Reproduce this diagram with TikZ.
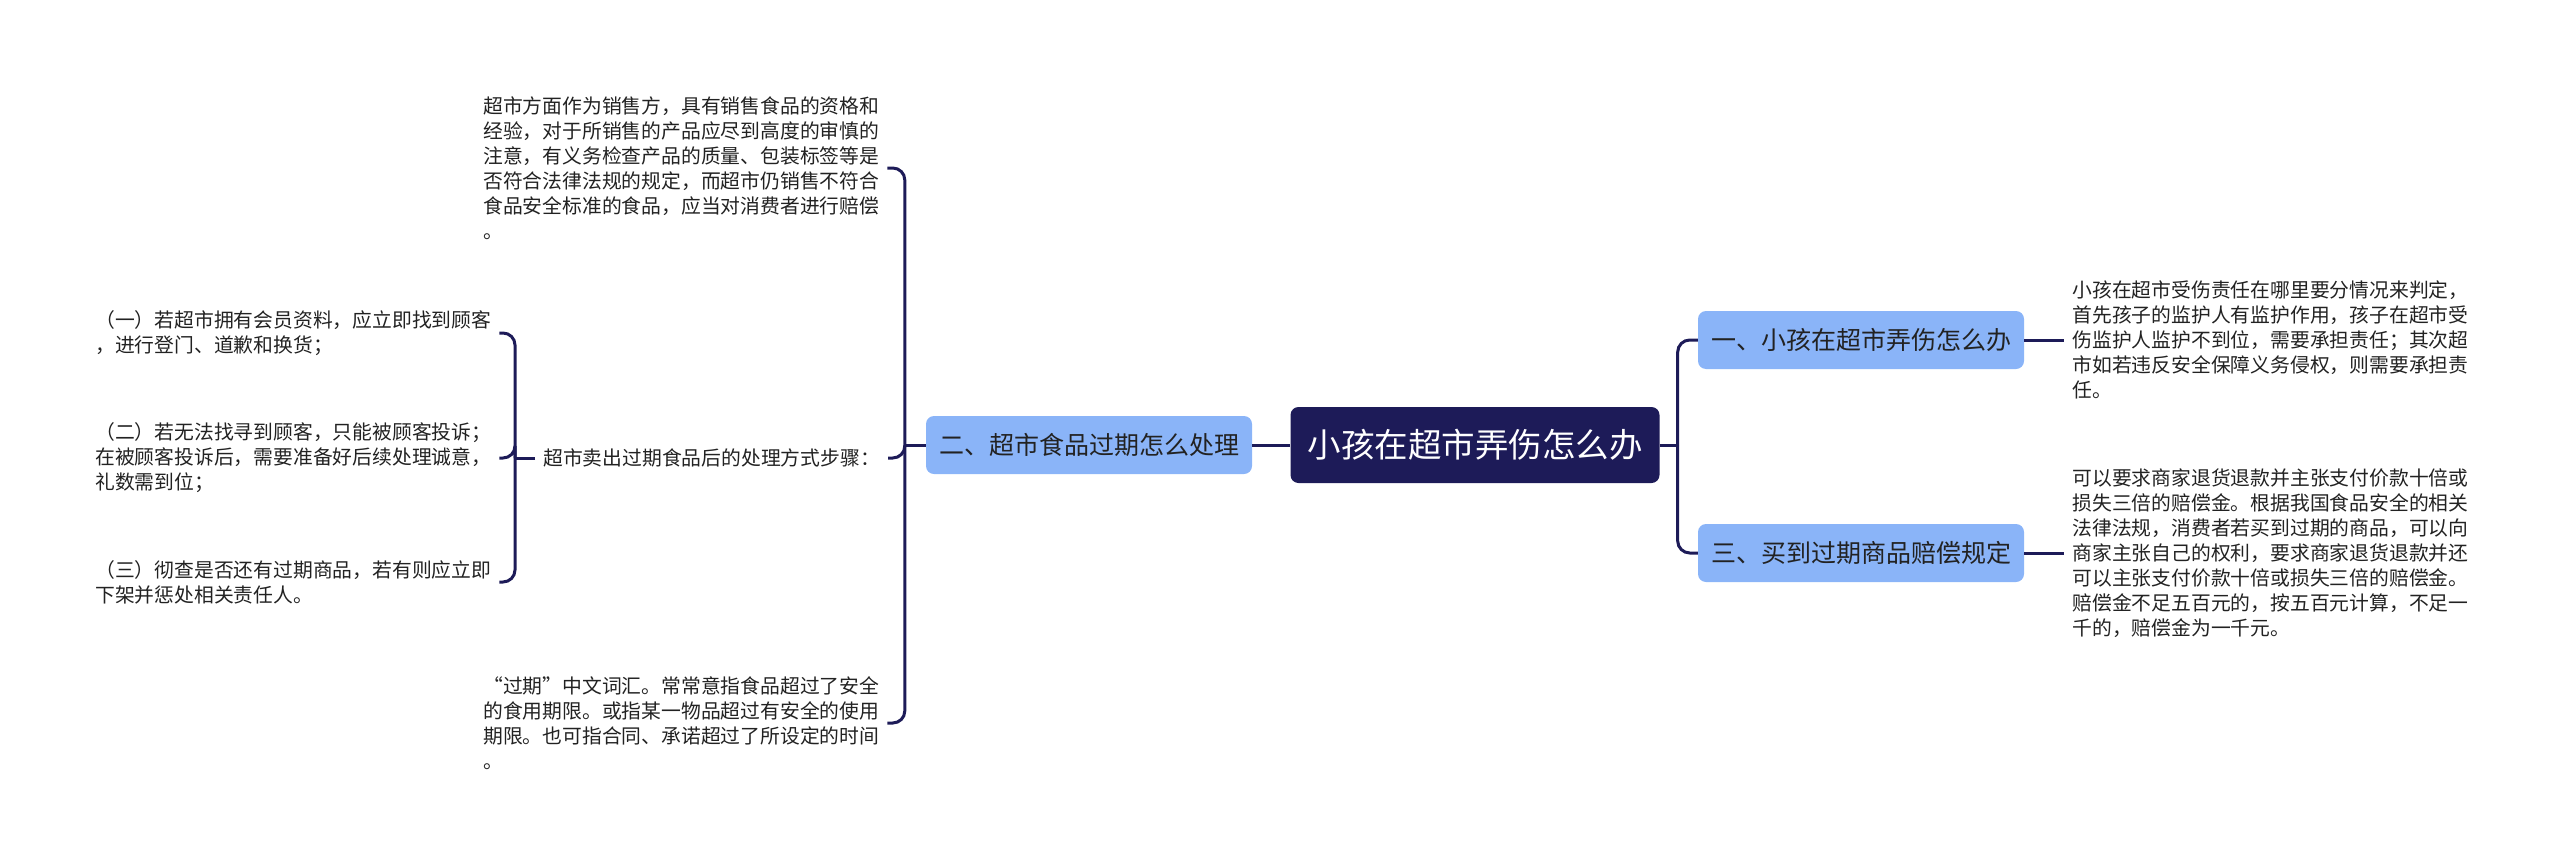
\documentclass[tikz,border=0pt]{standalone}
\usepackage{xcolor}
\usepackage{fontspec}
\setmainfont{Noto Sans CJK SC}
\usepackage{tikz}
\usetikzlibrary{positioning}
\definecolor{navy}{HTML}{1D1B58}
\definecolor{skyblue}{HTML}{8AB4F8}
\definecolor{ink}{HTML}{222222}

\begin{document}
\begin{tikzpicture}[x=1pt,y=-1pt]
        \tikzstyle{root}=[fill=navy,text=white,rounded corners=8pt,minimum width=369pt,minimum height=76pt,font=\fontsize{33.5}{40}\selectfont]
        \tikzstyle{branch}=[fill=skyblue,text=ink,rounded corners=8pt,minimum width=326pt,minimum height=58pt,font=\fontsize{25}{30}\selectfont]
        \tikzstyle{leaf}=[text=ink,align=left,inner xsep=8pt,inner ysep=0pt,font=\fontsize{19.8}{25}\selectfont]
        \tikzstyle{link}=[navy,line width=3pt,rounded corners=12pt]
        \useasboundingbox (0,0) rectangle (2560,865);
        \node[root] (root) at (1475,445) {小孩在超市弄伤怎么办};
        \node[branch] (kid) at (1861,340) {一、小孩在超市弄伤怎么办};
        \node[branch] (guoqi) at (1089,445) {二、超市食品过期怎么处理};
        \node[branch] (peichang) at (1861,553) {三、买到过期商品赔偿规定};
        \node[leaf,anchor=west] (kidtxt) at ([xshift=40pt]kid.east) {小孩在超市受伤责任在哪里要分情况来判定，\\首先孩子的监护人有监护作用，孩子在超市受\\伤监护人监护不到位，需要承担责任；其次超\\市如若违反安全保障义务侵权，则需要承担责\\任。};
        \node[leaf,anchor=west] (peitxt) at ([xshift=40pt]peichang.east) {可以要求商家退货退款并主张支付价款十倍或\\损失三倍的赔偿金。根据我国食品安全的相关\\法律法规，消费者若买到过期的商品，可以向\\商家主张自己的权利，要求商家退货退款并还\\可以主张支付价款十倍或损失三倍的赔偿金。\\赔偿金不足五百元的，按五百元计算，不足一\\千的，赔偿金为一千元。};
        \node[leaf,anchor=west] (sellertxt) at (475,168) {超市方面作为销售方，具有销售食品的资格和\\经验，对于所销售的产品应尽到高度的审慎的\\注意，有义务检查产品的质量、包装标签等是\\否符合法律法规的规定，而超市仍销售不符合\\食品安全标准的食品，应当对消费者进行赔偿\\。};
        \node[leaf,anchor=west] (steps) at (535,458) {超市卖出过期食品后的处理方式步骤：};
        \node[leaf,anchor=west] (meaning) at (475,723) {“过期”中文词汇。常常意指食品超过了安全\\的食用期限。或指某一物品超过有安全的使用\\期限。也可指合同、承诺超过了所设定的时间\\。};
        \node[leaf,anchor=west] (step1) at (87,333) {（一）若超市拥有会员资料，应立即找到顾客\\，进行登门、道歉和换货；};
        \node[leaf,anchor=west] (step2) at (87,458) {（二）若无法找寻到顾客，只能被顾客投诉；\\在被顾客投诉后，需要准备好后续处理诚意，\\礼数需到位；};
        \node[leaf,anchor=west] (step3) at (87,582) {（三）彻查是否还有过期商品，若有则应立即\\下架并惩处相关责任人。};
        \coordinate (rootfork) at ([xshift=18pt]root.east);
        \draw[link] (root.east) -- (rootfork);
        \draw[link] (rootfork) |- (kid.west);
        \draw[link] (rootfork) |- (peichang.west);
        \draw[link] (kid.east) -- (kidtxt.west);
        \draw[link] (peichang.east) -- (peitxt.west);
        \draw[link] (guoqi.east) -- (root.west);
        \coordinate (guoqifork) at ([xshift=-21pt]guoqi.west);
        \draw[link] (guoqi.west) -- (guoqifork);
        \draw[link] (guoqifork) |- (sellertxt.east);
        \draw[link] (guoqifork) |- (steps.east);
        \draw[link] (guoqifork) |- (meaning.east);
        \coordinate (stepsfork) at ([xshift=-20pt]steps.west);
        \draw[link] (steps.west) -- (stepsfork);
        \draw[link] (stepsfork) |- (step1.east);
        \draw[link] (stepsfork) |- (step2.east);
        \draw[link] (stepsfork) |- (step3.east);
    \end{tikzpicture}
\end{document}
